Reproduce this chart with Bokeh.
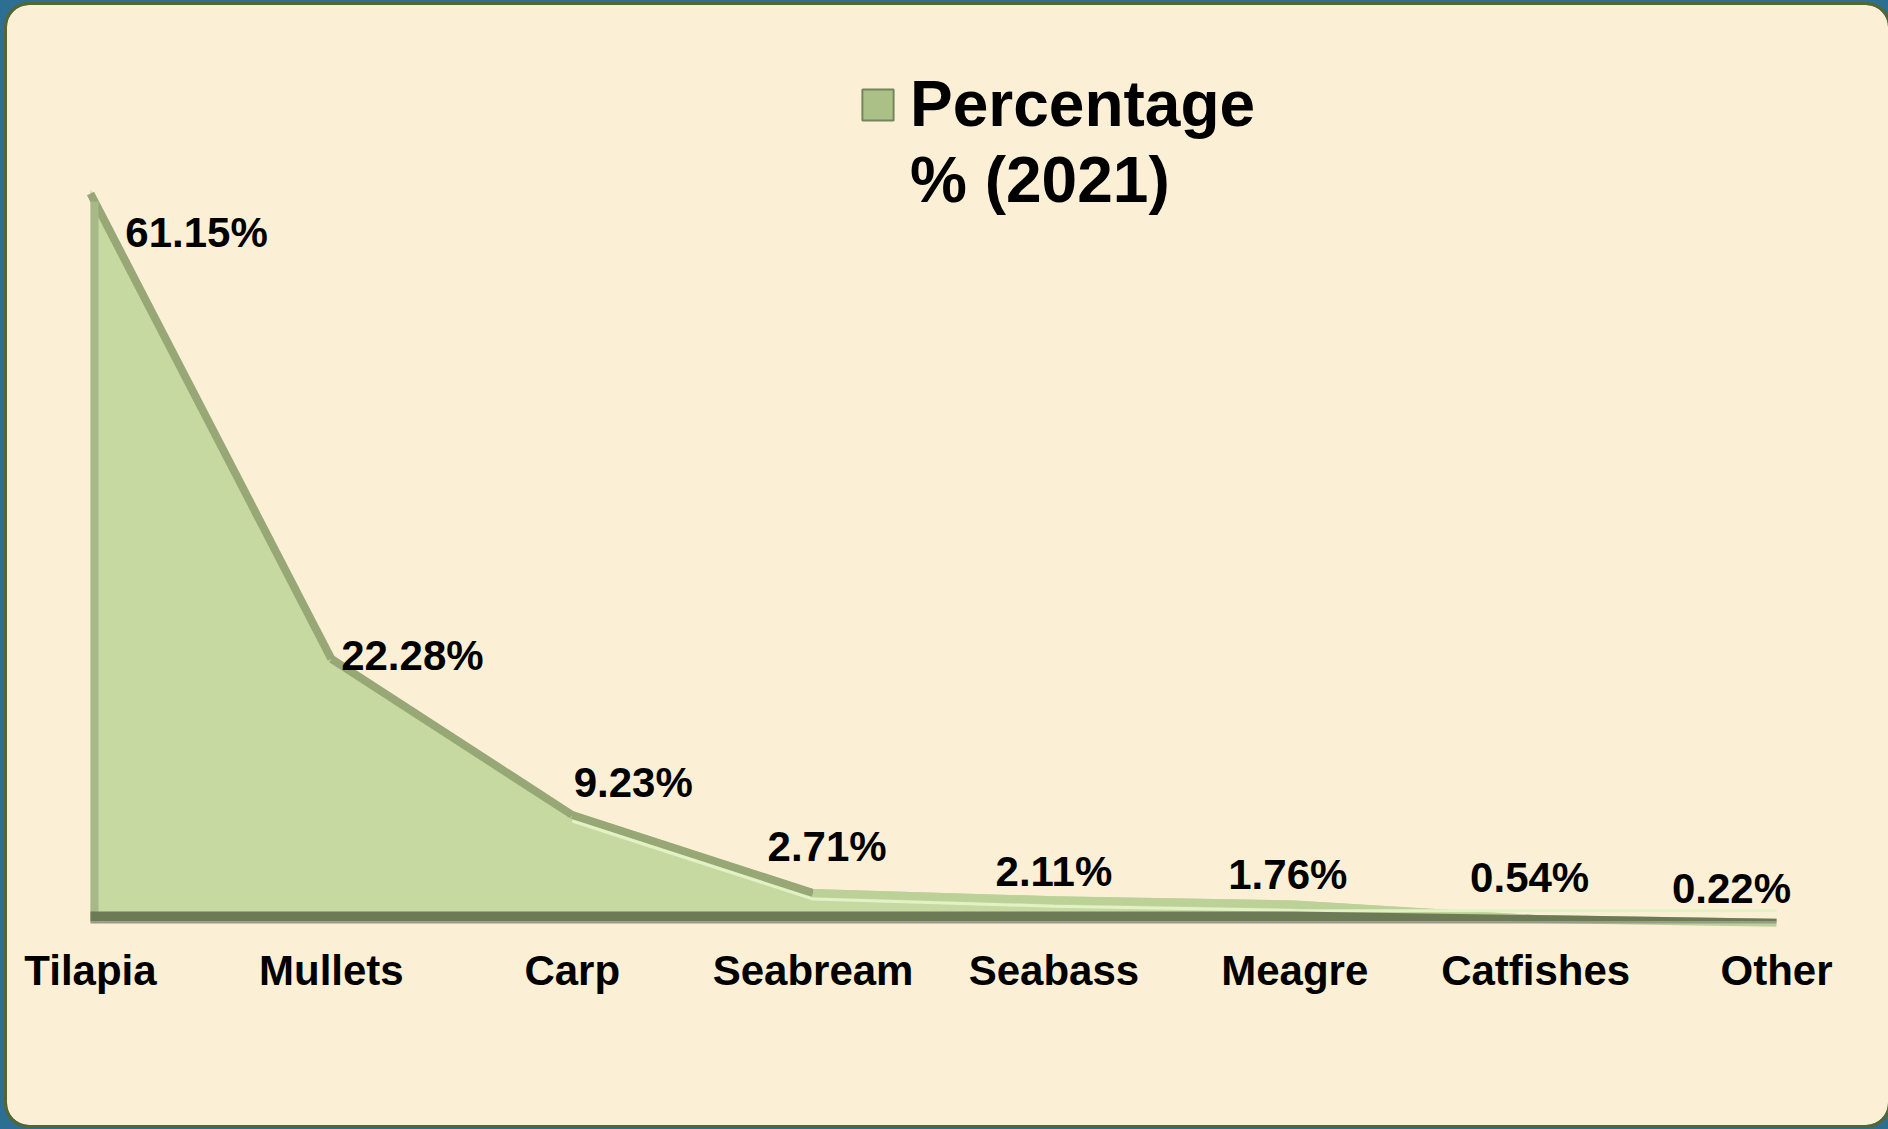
import numpy as np
from bokeh.plotting import figure
from bokeh.models import (Range1d, FixedTicker, ColumnDataSource, Legend, LegendItem)
from bokeh.core.properties import value
from bokeh.embed import file_html
from bokeh.resources import INLINE

# ---------------- data ----------------
categories = ["Tilapia", "Mullets", "Carp", "Seabream", "Seabass", "Meagre", "Catfishes", "Other"]
percentages = [61.15, 22.28, 9.23, 2.71, 2.11, 1.76, 0.54, 0.22]
series_name_lines = ["Percentage", "% (2021)"]

# ---------------- style ----------------
FONT = "Liberation Sans"
CREAM = "#fbf0d6"
PAGE_BLUE = "#2d6f93"
FILL = "#c5d9a1"
RIM_DARK = "#97a775"
RIM_LIGHT = "#bcd197"
HILITE = "#e2f2c4"
BOTTOM = "#6c7b56"
LEFT_RIM = "#a7b987"
label_dx = [106, 81, 61, 14, 0, -7, -6, -45]     # px offsets of value labels
label_dy = [43, 1, -29, -43, -25, -26, -38, -30]

W, H = 1881, 1120
px_per_unit = 11.97          # vertical scale (px per percent)
x_step = 240.86              # px per category
frame_h = 935
x0_px, base_px = 83, 916     # position of first category / baseline inside the frame

xs = np.arange(len(categories), dtype=float)
vals = np.array(percentages)

p = figure(width=W, height=H, output_backend="svg", toolbar_location=None,
           min_border_left=0, min_border_right=0, min_border_top=0,
           min_border_bottom=H - frame_h)
p.x_range = Range1d(-x0_px / x_step, -x0_px / x_step + W / x_step)
p.y_range = Range1d(-(frame_h - base_px) / px_per_unit,
                    -(frame_h - base_px) / px_per_unit + frame_h / px_per_unit)
p.background_fill_alpha = 0
p.border_fill_alpha = 0
p.outline_line_color = None
p.grid.visible = False
p.yaxis.visible = False

ax = p.xaxis[0]
ax.ticker = FixedTicker(ticks=list(range(len(categories))))
ax.major_label_overrides = {i: c for i, c in enumerate(categories)}
ax.axis_line_color = None
ax.major_tick_line_color = None
ax.minor_tick_line_color = None
ax.major_tick_out = 0
ax.major_label_standoff = 6
ax.major_label_text_font = FONT
ax.major_label_text_font_style = "bold"
ax.major_label_text_font_size = "42px"
ax.major_label_text_color = "black"

src = ColumnDataSource(dict(x=xs, y=vals, lab=[f"{v:.2f}%" for v in percentages],
                            dx=label_dx, dy=label_dy))

# main area
area = p.varea(x="x", y1=0, y2="y", source=src, fill_color=FILL)

# bevel: top rim (dark on steep slopes, light on flat part)
rim_shift = 4 / px_per_unit
slopes = np.abs(np.diff(vals))
seg_colors = [RIM_DARK if s > 3 else RIM_LIGHT for s in slopes]
p.segment(x0=xs[:-1], y0=vals[:-1] - rim_shift, x1=xs[1:], y1=vals[1:] - rim_shift,
          line_color=seg_colors, line_width=8)
# highlight line under the rim on the gentler part
hl_shift = 10 / px_per_unit
p.line(x=xs[2:], y=np.maximum(vals[2:] - hl_shift, 0.9), line_color=HILITE, line_width=3)
# left rim
p.segment(x0=[xs[0] + 4 / x_step], y0=[0], x1=[xs[0] + 4 / x_step], y1=[vals[0] - 1.0],
          line_color=LEFT_RIM, line_width=8)
# bottom band
band = np.minimum(vals, 10 / px_per_unit)
p.varea(x=xs, y1=0, y2=band, fill_color=BOTTOM)
p.line(x=[xs[0], xs[-1]], y=[-1 / px_per_unit] * 2, line_color="#9a9a8c", line_width=2)

# value labels
p.text(x="x", y="y", text="lab", source=src, x_offset="dx", y_offset="dy",
       text_font=value(FONT), text_font_style="bold", text_font_size="42px",
       text_color="black", text_align="center", text_baseline="alphabetic")

# legend (glyph-only renderers, nothing drawn in the plot area)
swatch = p.quad(left=[np.nan], right=[np.nan], top=[np.nan], bottom=[np.nan],
                fill_color="#aac087", line_color="#75865a", line_width=2)
blank = p.quad(left=[np.nan], right=[np.nan], top=[np.nan], bottom=[np.nan],
               fill_alpha=0, line_alpha=0)
legend = Legend(items=[LegendItem(label=series_name_lines[0], renderers=[swatch]),
                       LegendItem(label=series_name_lines[1], renderers=[blank])],
                location=(851, 723), orientation="vertical",
                background_fill_alpha=0, border_line_color=None,
                padding=0, margin=0, spacing=2,
                glyph_width=39, glyph_height=39, label_standoff=13,
                label_text_font=FONT, label_text_font_style="bold",
                label_text_font_size="64px", label_text_color="black")
p.add_layout(legend, "center")

p.styles = {"border-radius": "22px", "overflow": "hidden",
            "outline": "3px solid #556630", "background-color": CREAM,
            "margin-left": "7px", "margin-top": "5px"}

html = file_html(p, INLINE)
html = html.replace("</head>", "<style>body{background:%s;}</style></head>" % PAGE_BLUE, 1)
open("out.html", "w").write(html)
